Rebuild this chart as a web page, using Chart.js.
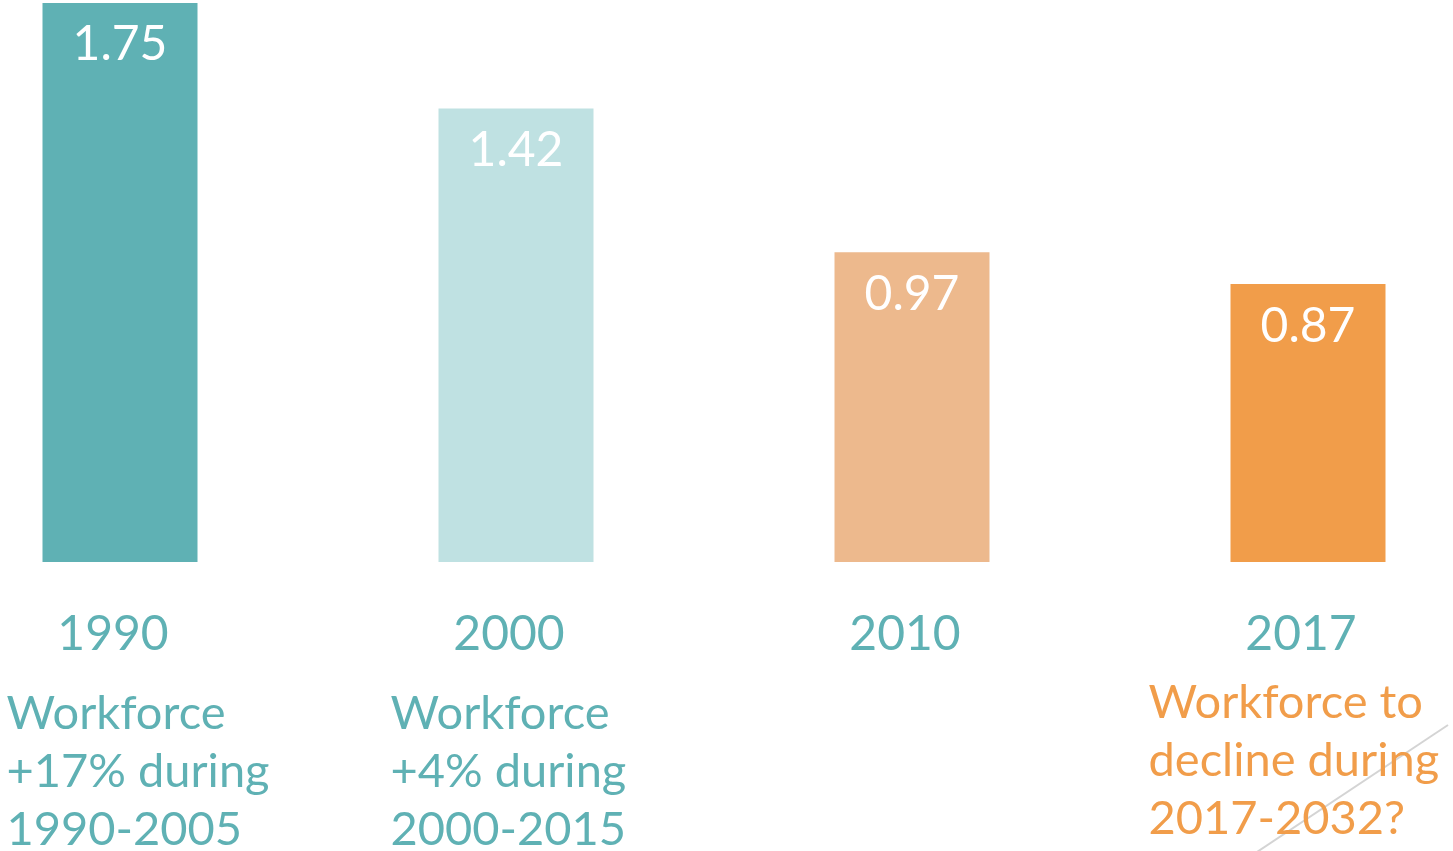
<!DOCTYPE html>
<html>
<head>
<meta charset="utf-8">
<script src="https://cdn.jsdelivr.net/npm/chart.js@4"></script>
<style>
  html, body { margin: 0; padding: 0; background: #fff; }
  #wrap { position: relative; width: 1453px; height: 851px; overflow: hidden; }
  #box { position: absolute; left: -78px; top: 0; width: 1584px; height: 851px; }
</style>
</head>
<body>
<div id="wrap"><div id="box"><canvas id="Chart"></canvas></div></div>
<script>
const years = ['1990', '2000', '2010', '2017'];
const ratios = [1.75, 1.42, 0.97, 0.87];
const barColors = ['#5FB1B4', '#BFE1E2', '#EDB98D', '#F19D4A'];
const notes = [
    ['Workforce', '+17% during', '1990-2005'],
    ['Workforce', '+4% during', '2000-2015'],
    [],
    ['Workforce to', 'decline during', '2017-2032?']
];
const noteColors = ['#5FB1B4', '#5FB1B4', '#5FB1B4', '#F19D4A'];

const FONT = 'Lato';
const teal = '#5FB1B4';

// where each note block starts, relative to its bar's left edge
const noteOffsetX = [-36, -48, 0, -82];
const noteTop = [729, 729, 729, 718];

const extras = {
    id: 'extras',
    beforeDatasetsDraw(chart) {
        const c = chart.ctx;
        c.save();
        c.strokeStyle = '#D4D4D4';
        c.lineWidth = 2;
        c.beginPath();
        c.moveTo(1257 + 78, 852);
        c.lineTo(1448 + 78, 725);
        c.stroke();
        c.restore();
    },
    afterDatasetsDraw(chart) {
        const c = chart.ctx;
        const meta = chart.getDatasetMeta(0);
        c.save();
        c.font = '48px ' + FONT;
        c.textAlign = 'center';
        c.textBaseline = 'middle';
        c.fillStyle = '#fff';
        meta.data.forEach((bar, i) => {
            c.fillText(ratios[i].toFixed(2), bar.x, bar.y + 42);
        });
        c.font = '47px ' + FONT;
        c.textAlign = 'left';
        c.textBaseline = 'alphabetic';
        meta.data.forEach((bar, i) => {
            const left = bar.x - bar.width / 2 + noteOffsetX[i];
            c.fillStyle = noteColors[i];
            notes[i].forEach((line, j) => {
                c.fillText(line, left, noteTop[i] + j * 58);
            });
        });
        c.restore();
    }
};

new Chart(document.getElementById('Chart'), {
    type: 'bar',
    data: {
        labels: years,
        datasets: [{
            data: ratios,
            backgroundColor: barColors,
            borderWidth: 0,
            barPercentage: 1,
            categoryPercentage: 155 / 396
        }]
    },
    options: {
        responsive: true,
        maintainAspectRatio: false,
        animation: false,
        layout: { padding: { top: 3, left: 0, right: 0, bottom: 0 } },
        plugins: {
            legend: { display: false },
            tooltip: { enabled: false }
        },
        scales: {
            x: {
                grid: { display: false, drawTicks: false },
                border: { display: false },
                ticks: {
                    color: teal,
                    font: { family: FONT, size: 48 },
                    padding: 44,
                    labelOffset: -7,
                    maxRotation: 0
                },
                afterFit(scale) { scale.height = 289; }
            },
            y: {
                display: false,
                min: 0,
                max: 1.75
            }
        }
    },
    plugins: [extras]
});
</script>
</body>
</html>
